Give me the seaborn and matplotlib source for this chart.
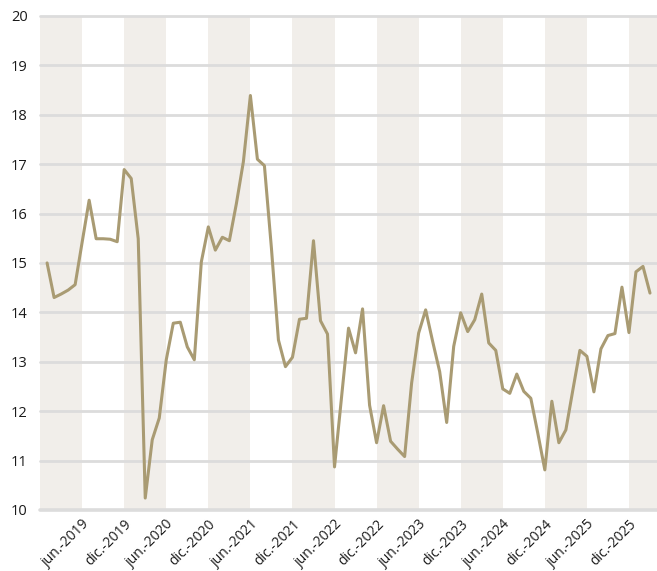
import numpy as np
import pandas as pd
import matplotlib
matplotlib.use("Agg")
import matplotlib.pyplot as plt
import seaborn as sns

# monthly series, ene-2019 .. mar-2026
values = [
  15.0, 14.30, 14.37, 14.45, 14.56, 15.42, 16.27, 15.49, 15.49, 15.48,
  15.43, 16.89, 16.71, 15.49, 10.24, 11.42, 11.86, 13.04, 13.78, 13.80,
  13.30, 13.04, 15.02, 15.73, 15.26, 15.52, 15.45, 16.2, 17.05, 18.39,
  17.10, 16.97, 15.3, 13.44, 12.90, 13.09, 13.86, 13.88, 15.45, 13.83,
  13.56, 10.87, 12.28, 13.68, 13.18, 14.07, 12.12, 11.36, 12.11, 11.39,
  11.23, 11.08, 12.57, 13.58, 14.05, 13.41, 12.80, 11.77, 13.31, 13.99,
  13.61, 13.85, 14.37, 13.38, 13.23, 12.45, 12.36, 12.75, 12.40, 12.26,
  11.55, 10.81, 12.20, 11.36, 11.62, 12.43, 13.23, 13.11, 12.39, 13.26,
  13.53, 13.57, 14.51, 13.59, 14.82, 14.93, 14.39,
]
tick_pos = [5, 11, 17, 23, 29, 35, 41, 47, 53, 59, 65, 71, 77, 83]
tick_labels = [
  "jun.-2019", "dic.-2019", "jun.-2020", "dic.-2020", "jun.-2021",
  "dic.-2021", "jun.-2022", "dic.-2022", "jun.-2023", "dic.-2023",
  "jun.-2024", "dic.-2024", "jun.-2025", "dic.-2025",
]
y_ticks = [10, 11, 12, 13, 14, 15, 16, 17, 18, 19, 20]

df = pd.DataFrame({"idx": np.arange(len(values)), "val": values})

sns.set_style("white")
plt.rcParams["font.family"] = ["Open Sans", "DejaVu Sans"]

fig = plt.figure(figsize=(6.57, 5.71), dpi=100)
ax = fig.add_axes([0.061, 0.107, 0.939, 0.865])

xmin, xmax = -1, 87
# alternating half-year bands
edges = [xmin] + tick_pos + [xmax]
for k in range(len(edges) - 1):
  if k % 2 == 0:
    ax.axvspan(edges[k], edges[k+1], color="#f1eeea", lw=0, zorder=0)

for y in y_ticks:
  ax.axhline(y, color="#dcdcdc", lw=2 if y > 10 else 2.6, zorder=1, clip_on=False)

sns.lineplot(data=df, x="idx", y="val", ax=ax, color="#a99b73", lw=2.2, zorder=3)

ax.set_xlim(xmin, xmax)
ax.set_ylim(10, 20)
ax.set_xticks(tick_pos)
ax.set_xticklabels(tick_labels, rotation=45, ha="right", rotation_mode="anchor")
ax.set_yticks(y_ticks)
ax.tick_params(axis="both", length=0, labelsize=10, colors="#1a1a1a")
ax.tick_params(axis="x", pad=5)
ax.tick_params(axis="y", labelsize=10.5, pad=9)
ax.set_xlabel("")
ax.set_ylabel("")
for s in ax.spines.values():
  s.set_visible(False)

fig.savefig("out.png", dpi=100)
